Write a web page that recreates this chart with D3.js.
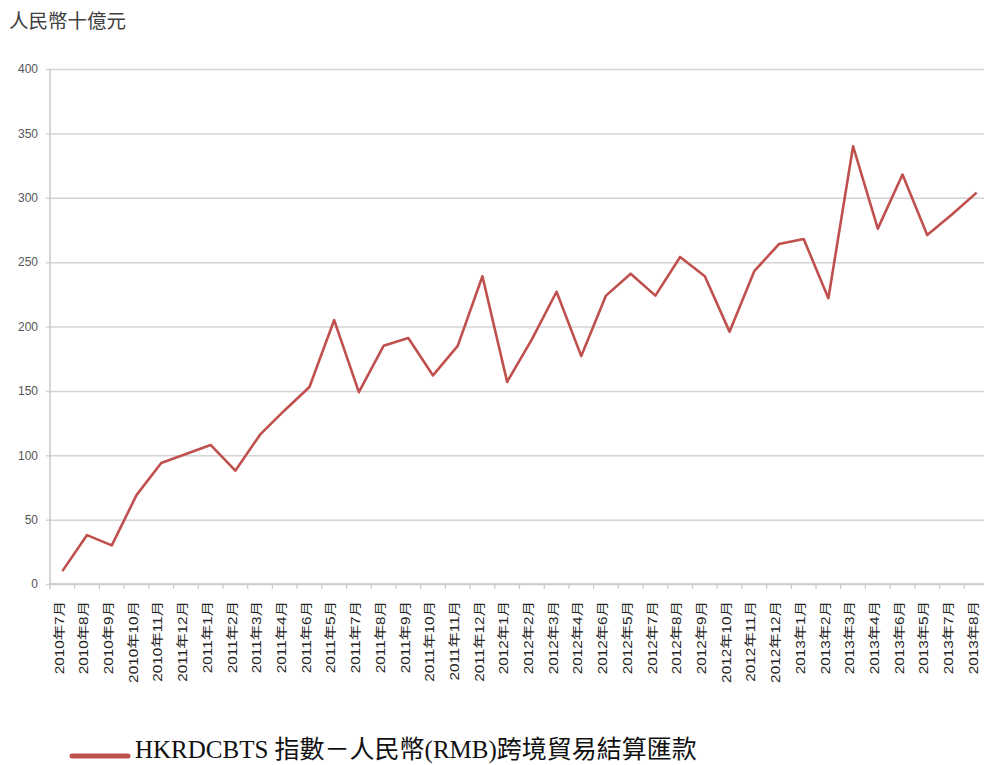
<!DOCTYPE html>
<html>
<head>
<meta charset="utf-8">
<script src="https://cdn.jsdelivr.net/npm/d3@7"></script>
<style>
  body { margin: 0; background: #fff; }
  svg { display: block; }
</style>
</head>
<body>
<div id="chart"></div>
<script>
// month labels as printed on the chart (order kept as in the source)
const months = [
  "2010年7月", "2010年8月", "2010年9月", "2010年10月", "2010年11月", "2011年12月",
  "2011年1月", "2011年2月", "2011年3月", "2011年4月", "2011年6月", "2011年5月",
  "2011年7月", "2011年8月", "2011年9月", "2011年10月", "2011年11月", "2011年12月",
  "2012年1月", "2012年2月", "2012年3月", "2012年4月", "2012年6月", "2012年5月",
  "2012年7月", "2012年8月", "2012年9月", "2012年10月", "2012年11月", "2012年12月",
  "2013年1月", "2013年2月", "2013年3月", "2013年4月", "2013年6月", "2013年5月",
  "2013年7月", "2013年8月"
];

// RMB billions
const remittance = [
  10, 38, 30, 69, 94, 101, 108, 88, 116, 135, 153, 205,
  149, 185, 191, 162, 185, 239, 157, 190, 227, 177, 224, 241,
  224, 254, 239, 196, 243, 264, 268, 222, 340, 276, 318, 271,
  287, 304
];

const yTicks = [0, 50, 100, 150, 200, 250, 300, 350, 400];

const unitLabel = "人民幣十億元";
const seriesName = "HKRDCBTS 指數－人民幣(RMB)跨境貿易結算匯款";

const W = 984, H = 765;
const m = {left: 50, top: 69, bottom: 584, right: 989};

const svg = d3.select("#chart")
    .append("svg")
    .attr("width", W)
    .attr("height", H);

// band per month, keyed by index since one label appears twice
const x = d3.scaleBand().domain(d3.range(months.length)).range([m.left, m.right]);
const y = d3.scaleLinear().domain([0, 400]).range([m.bottom, m.top]);

// unit label
svg.append("text")
    .attr("x", 9)
    .attr("y", 28)
    .style("font-family", "'Noto Sans CJK TC', sans-serif")
    .style("font-size", "19.5px")
    .style("fill", "#404040")
    .text(unitLabel);

// horizontal grid + y axis labels
const yAxis = svg.append("g")
    .attr("transform", "translate(" + m.left + ",0)")
    .call(d3.axisLeft(y).tickValues(yTicks).tickSize(-(W - m.left)).tickSizeOuter(0).tickPadding(12));
yAxis.select(".domain").remove();
yAxis.selectAll(".tick line")
    .attr("x1", -4)
    .attr("stroke", "#d4d4d4")
    .attr("stroke-width", 1.5);
yAxis.selectAll(".tick text")
    .style("font-family", "'Liberation Sans', Arial, sans-serif")
    .style("font-size", "12px")
    .style("fill", "#555");

// vertical axis line
svg.append("line")
    .attr("x1", m.left).attr("x2", m.left)
    .attr("y1", m.top).attr("y2", m.bottom + 5)
    .attr("stroke", "#c8c8c8")
    .attr("stroke-width", 1.5);

// x axis: ticks at band edges
const xAxis = svg.append("g")
    .attr("transform", "translate(0," + m.bottom + ")");
xAxis.append("line")
    .attr("x1", m.left).attr("x2", W)
    .attr("stroke", "#c8c8c8")
    .attr("stroke-width", 1.5);
xAxis.selectAll("line.tick")
    .data(months)
    .enter()
    .append("line")
    .attr("class", "tick")
    .attr("x1", (d, i) => x(i) + x.bandwidth())
    .attr("x2", (d, i) => x(i) + x.bandwidth())
    .attr("y1", 0)
    .attr("y2", 5)
    .attr("stroke", "#c8c8c8")
    .attr("stroke-width", 1.2);

xAxis.selectAll("text")
    .data(months)
    .enter()
    .append("text")
    .attr("transform", (d, i) => "translate(" + (x(i) + x.bandwidth() / 2 - 3) + ",17) rotate(-90) scale(1.28,1)")
    .attr("dy", "0.35em")
    .attr("text-anchor", "end")
    .style("font-family", "'Liberation Sans', Arial, 'Noto Sans CJK TC', sans-serif")
    .style("font-size", "12px")
    .style("fill", "#222")
    .text(d => d);

// the series
const line = d3.line()
    .x((d, i) => x(i) + x.bandwidth() / 2)
    .y(d => y(d));

svg.append("path")
    .datum(remittance)
    .attr("d", line)
    .attr("fill", "none")
    .attr("stroke", "#c0504d")
    .attr("stroke-width", 2.6)
    .attr("stroke-linejoin", "round");

// legend
const legend = svg.append("g").attr("transform", "translate(72,756)");
legend.append("line")
    .attr("x1", 0).attr("x2", 56)
    .attr("stroke", "#c0504d")
    .attr("stroke-width", 5)
    .attr("stroke-linecap", "round");
legend.append("text")
    .attr("x", 63)
    .attr("y", 2)
    .style("font-family", "'Liberation Serif', 'Times New Roman', 'Noto Sans CJK TC', serif")
    .style("font-size", "25px")
    .style("fill", "#111")
    .text(seriesName);
</script>
</body>
</html>
